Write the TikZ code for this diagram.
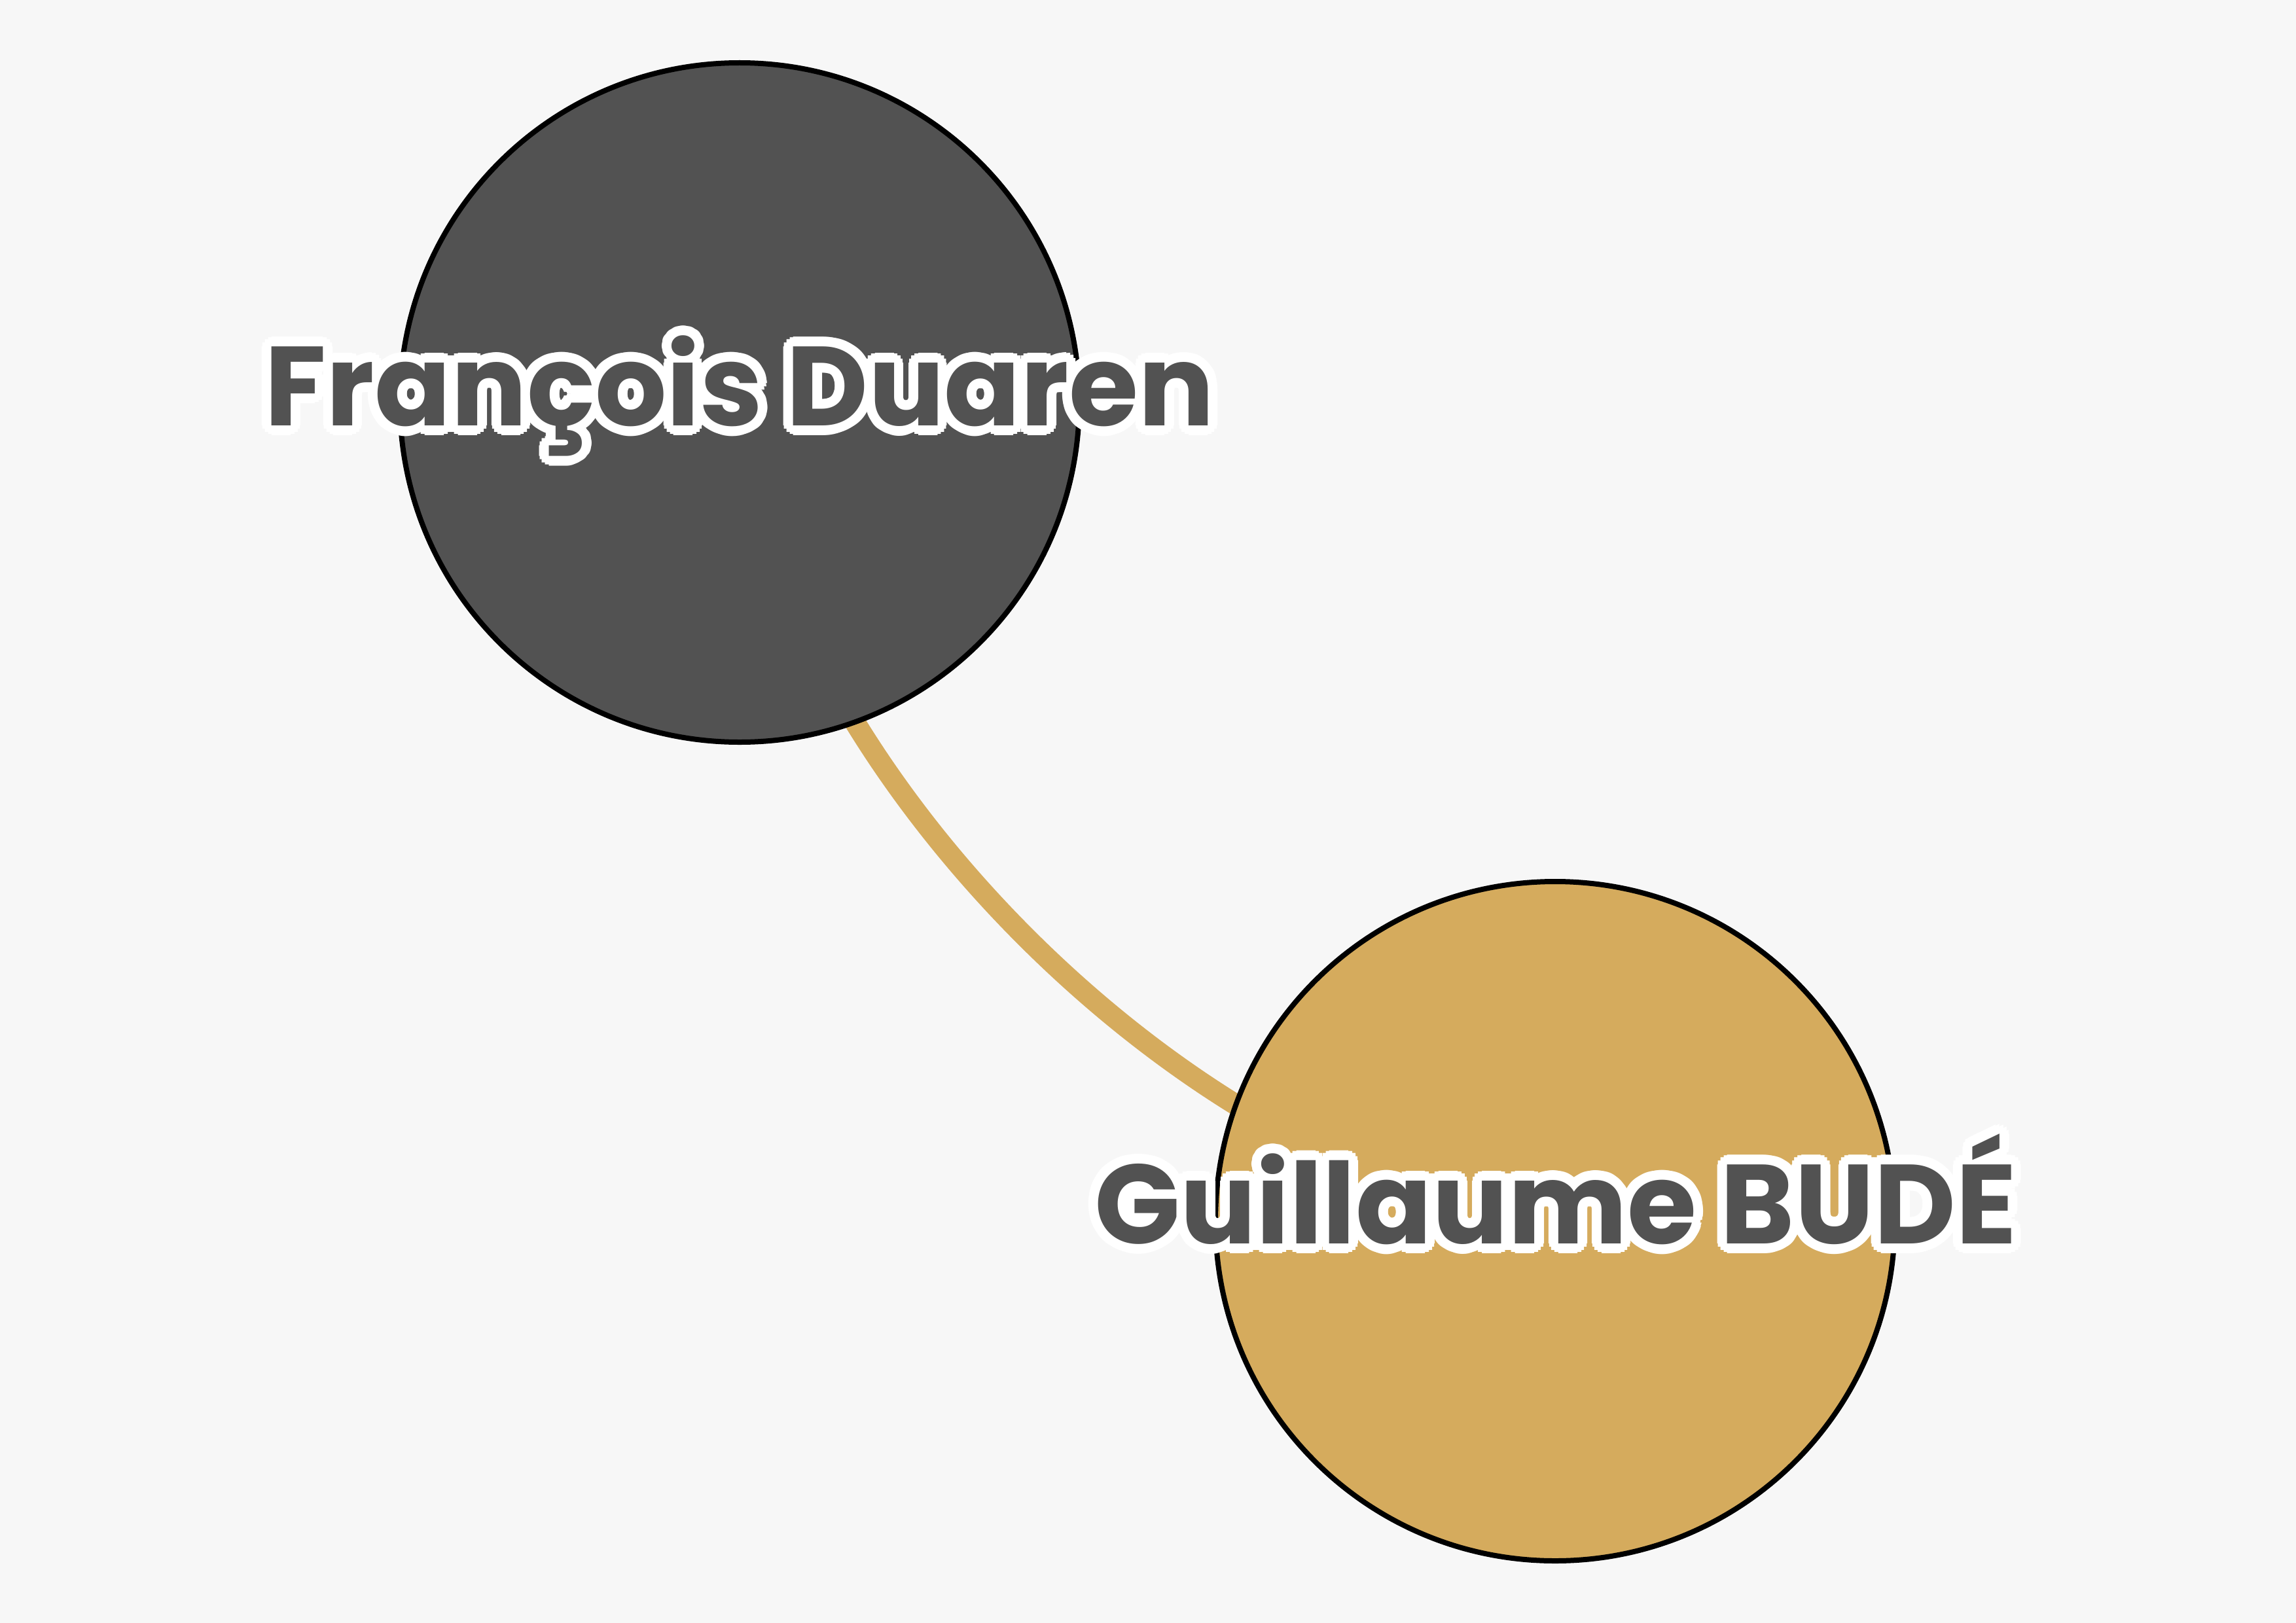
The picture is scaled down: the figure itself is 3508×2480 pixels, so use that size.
\documentclass[tikz,border=0pt]{standalone}
\usepackage{fontspec}
\usepackage[copies]{contour}
\usetikzlibrary{backgrounds}
\newfontfamily\labfont{Poppins Bold}
\definecolor{bgcol}{HTML}{F7F7F7}
\definecolor{darkcol}{HTML}{525252}
\definecolor{tancol}{HTML}{D5AB5D}
\contourlength{15pt}
\contournumber{16}
\tikzset{
  person/.style={circle, draw=black, line width=8pt, minimum size=1038pt, inner sep=0pt, outer sep=0pt},
  lab/.style={text=darkcol, font=\labfont\fontsize{172}{172}\selectfont, inner sep=0pt, anchor=base},
  link/.style={draw=tancol, line width=32pt}
}
\begin{document}
\begin{tikzpicture}[x=1pt, y=-1pt]
\useasboundingbox (0,0) rectangle (3508,2480);
\node[person, fill=darkcol] (fd) at (1130,615) {};
\node[person, fill=tancol] (gb) at (2376,1866) {};
\begin{scope}[on background layer]
  \fill[bgcol] (0,0) rectangle (3508,2480);
  \draw[link] (fd.center) .. controls (1177,1166) and (1825,1817) .. (gb.center);
\end{scope}
\node[lab] (fdl) at (1130,650) {\contour{white}{François Duaren}};
\node[lab] (gbl) at (2377,1900) {\contour{white}{Guillaume BUDÉ}};
\end{tikzpicture}
\end{document}
